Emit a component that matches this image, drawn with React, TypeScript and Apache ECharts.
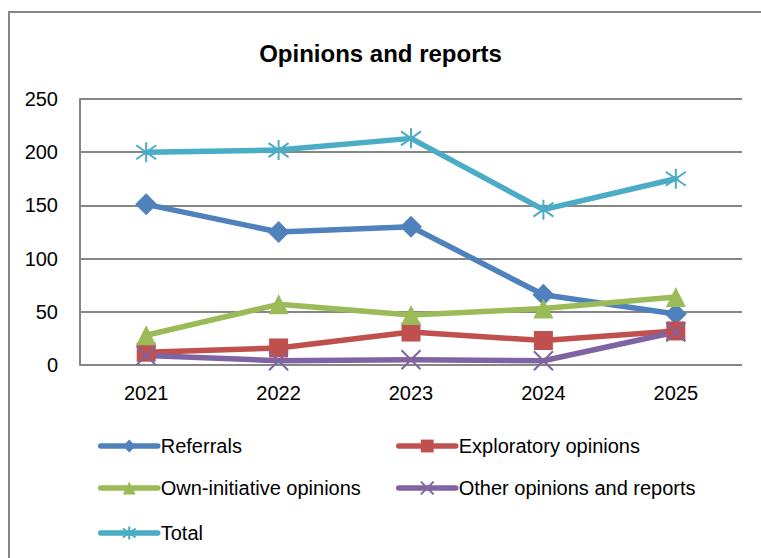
import React, { useEffect, useRef } from "react";
import * as echarts from "echarts";

// Opinions and reports adopted per year, by type
const years = ["2021", "2022", "2023", "2024", "2025"];
const referrals = [151, 125, 130, 66, 48];
const exploratory = [12, 16, 31, 23, 32];
const ownInitiative = [28, 57, 47, 53, 64];
const otherOpinions = [9, 4, 5, 4, 31];
const totals = [200, 202, 213, 146, 175];

const seriesNames = [
  "Referrals",
  "Exploratory opinions",
  "Own-initiative opinions",
  "Other opinions and reports",
  "Total",
];

const FONT = "'Liberation Sans Narrow', 'Arial Narrow', 'Liberation Sans', Arial, sans-serif";
const GRID_GREY = "#868686";

// Marker outlines drawn with strokes (borderWidth) rather than fills
const crossSymbol = "path://M0,0 L20,20 M20,0 L0,20";
const starSymbol = "path://M10,0 L10,20 M1,3 L19,17 M19,3 L1,17";

export default function App() {
  const ref = useRef<HTMLDivElement>(null);

  useEffect(() => {
    if (!ref.current) return;
    const chart = echarts.init(ref.current, undefined, { renderer: "svg" });

    const lineSeries = (
      name: string,
      data: number[],
      color: string,
      symbol: string,
      symbolSize: number | number[],
      stroked = false
    ) => ({
      name,
      type: "line",
      data,
      symbol,
      symbolSize,
      showSymbol: true,
      lineStyle: { color, width: 5.5, cap: "round", join: "round" },
      itemStyle: stroked
        ? { color, borderColor: color, borderWidth: 2 }
        : { color, borderWidth: 0 },
      emphasis: { disabled: true },
    });

    const legendAt = (name: string, left: number, top: number) => ({
      data: [name],
      left,
      top,
      orient: "horizontal",
      itemWidth: 57,
      itemHeight: 16,
      itemGap: 0,
      padding: 0,
      lineStyle: { width: 5.5, cap: "round" },
      textStyle: { fontFamily: FONT, fontSize: 20, color: "#000", padding: [0, 0, 0, -2] },
      selectedMode: false,
    });

    chart.setOption({
      animation: false,
      backgroundColor: "#fff",
      title: {
        text: "Opinions and reports",
        left: "center",
        top: 36,
        textStyle: { fontFamily: FONT, fontSize: 24, fontWeight: "bold", color: "#000" },
      },
      graphic: [
        {
          type: "rect",
          shape: { x: 9, y: 12, width: 800, height: 600 },
          style: { fill: "none", stroke: GRID_GREY, lineWidth: 2 },
          silent: true,
        },
      ],
      legend: [
        legendAt(seriesNames[0], 98, 436),
        legendAt(seriesNames[1], 396, 436),
        legendAt(seriesNames[2], 98, 478),
        legendAt(seriesNames[3], 396, 478),
        legendAt(seriesNames[4], 98, 523),
      ],
      grid: { left: 80, right: 19, top: 99, bottom: 193, containLabel: false },
      xAxis: {
        type: "category",
        data: years,
        boundaryGap: true,
        axisLine: { show: false },
        axisTick: { show: false },
        axisLabel: { fontFamily: FONT, fontSize: 20, color: "#000", margin: 18 },
      },
      yAxis: {
        type: "value",
        min: 0,
        max: 250,
        interval: 50,
        axisLine: { show: true, lineStyle: { color: GRID_GREY, width: 2 } },
        axisTick: { show: false },
        splitLine: { lineStyle: { color: GRID_GREY, width: 2 } },
        axisLabel: { fontFamily: FONT, fontSize: 20, color: "#000", margin: 22 },
      },
      series: [
        lineSeries(seriesNames[0], referrals, "#4F81BD", "diamond", 22),
        lineSeries(seriesNames[1], exploratory, "#C0504D", "rect", 19),
        lineSeries(seriesNames[2], ownInitiative, "#9BBB59", "triangle", 20),
        lineSeries(seriesNames[3], otherOpinions, "#8064A2", crossSymbol, [19, 19], true),
        lineSeries(seriesNames[4], totals, "#4BACC6", starSymbol, [20, 20], true),
      ],
    });

    return () => chart.dispose();
  }, []);

  return (
    <div
      ref={ref}
      style={{ position: "absolute", left: 0, top: 0, width: 761, height: 558 }}
    />
  );
}
